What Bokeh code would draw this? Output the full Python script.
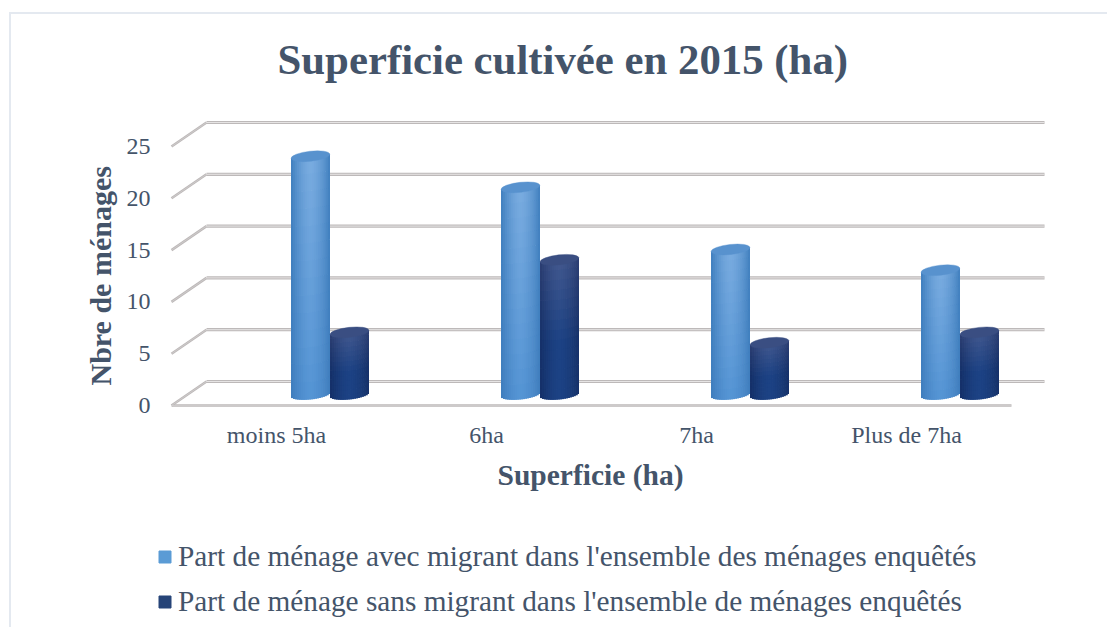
from bokeh.plotting import figure
from bokeh.models import (ColumnDataSource, Range1d, FixedTicker, Legend, LegendItem, Title)
from bokeh.embed import file_html
from bokeh.resources import INLINE
import math

TITLE = "Superficie cultivée en 2015 (ha)"
X_TITLE = "Superficie (ha)"
Y_TITLE = "Nbre de ménages"
categories = ["moins 5ha", "6ha", "7ha", "Plus de 7ha"]
avec_migrant = [23, 20, 14, 12]
sans_migrant = [6, 13, 5, 6]
y_ticks = [0, 5, 10, 15, 20, 25]
series_names = ["Part de ménage avec migrant dans l'ensemble des ménages enquêtés",
                "Part de ménage sans migrant dans l'ensemble de ménages enquêtés"]

INK = "#44546A"
FONT = "Liberation Serif"
PX_PER_CAT = 210.0
PX_PER_UNIT = 10.36
W, H = 1107, 627
FRAME_L, FRAME_R, FRAME_T, FRAME_B = 120, 1060, 115, H   # page pixels
AXIS_X, AXIS_Y = 165, 410
ZERO_X, ZERO_Y = 276, 405
RULE = "#E4E9F0"

def dx(px): return px / PX_PER_CAT
def dy(px): return px / PX_PER_UNIT

p = figure(width=W, height=H, output_backend="svg", toolbar_location=None,
           x_range=Range1d((FRAME_L - ZERO_X) / PX_PER_CAT, (FRAME_R - ZERO_X) / PX_PER_CAT),
           y_range=Range1d((ZERO_Y - FRAME_B) / PX_PER_UNIT, (ZERO_Y - FRAME_T) / PX_PER_UNIT),
           min_border_left=FRAME_L, min_border_right=W - FRAME_R,
           min_border_top=FRAME_T, min_border_bottom=0,
           background_fill_color="white", border_fill_alpha=0, outline_line_color=None,
           styles={"background-image": f"linear-gradient({RULE},{RULE}), linear-gradient({RULE},{RULE})",
                   "background-size": "100% 2px, 2px 100%",
                   "background-position": "9px 12px, 9px 12px",
                   "background-repeat": "no-repeat"})
p.grid.visible = False

p.title.text = TITLE
p.title.text_font = FONT
p.title.text_font_size = "42.8px"
p.title.text_font_style = "bold"
p.title.text_color = INK
p.title.align = "left"
p.title.offset = 157
p.title.standoff = 66

ax = p.yaxis[0]
ax.fixed_location = (AXIS_X - ZERO_X) / PX_PER_CAT
ax.ticker = FixedTicker(ticks=y_ticks)
ax.axis_line_color = None
ax.major_tick_line_color = None
ax.minor_tick_line_color = None
ax.major_label_text_font = FONT
ax.major_label_text_font_size = "24px"
ax.major_label_text_color = INK
ax.major_label_standoff = 9

ax = p.xaxis[0]
ax.fixed_location = (ZERO_Y - AXIS_Y) / PX_PER_UNIT
ax.ticker = FixedTicker(ticks=list(range(len(categories))))
ax.major_label_overrides = {i: c for i, c in enumerate(categories)}
ax.axis_line_color = None
ax.major_tick_line_color = None
ax.minor_tick_line_color = None
ax.major_label_text_font = FONT
ax.major_label_text_font_size = "24px"
ax.major_label_text_color = INK
ax.major_label_standoff = 5
ax.axis_label = X_TITLE
ax.axis_label_text_font = FONT
ax.axis_label_text_font_size = "29.5px"
ax.axis_label_text_font_style = "bold"
ax.axis_label_text_color = INK
ax.axis_label_standoff = 8

p.add_layout(Title(text=Y_TITLE, align="left", offset=FRAME_B - 385, standoff=7, text_font=FONT,
                   text_font_size="30px", text_font_style="bold", text_color=INK), "left")

# 3D chart walls
BACK_X, BACK_Y = 35, 24
x0 = -105 / PX_PER_CAT
x1 = x0 + len(categories)
hx, hy, sx, sy = [], [], [], []
for t in y_ticks:
    hx.append([x0 + dx(BACK_X), x1 + dx(BACK_X - 2)])
    hy.append([t + dy(BACK_Y), t + dy(BACK_Y)])
    sx.append([x0, x0 + dx(BACK_X)])
    sy.append([t, t + dy(BACK_Y)])
sx.append([x0, x1])
sy.append([0, 0])
for col, w in (("#BDB9B9", 3.2), ("#E6E4E4", 1.0)):
    p.multi_line(hx, hy, line_color=col, line_width=w)
    p.multi_line(sx, sy, line_color=col, line_width=w - 0.6)

def mix(a, b, t):
    t = max(0.0, min(1.0, t))
    return tuple(a[i] + (b[i] - a[i]) * t for i in range(3))

def to_hex(c):
    return "#%02x%02x%02x" % tuple(int(round(v)) for v in c)

BAR_W = 39
RY = 5.0
TILT = 0.11
BASE = 11
NX, NY = 20, 14
OVER = 0.7

def cylinder(values, off_px, edge_top, mid_top, edge_bot, mid_bot, cap, knee):
    src = dict(left=[], right=[], top=[], bottom=[], color=[])
    for i, v in enumerate(values):
        cx = i + dx(off_px)
        base = dy(BASE)
        for j in range(NX):
            ua = -1 + 2 * j / NX
            ub = ua + 2 / NX
            u = (ua + ub) / 2
            curve = dy(TILT * u * BAR_W / 2)
            low = base + curve - dy(RY * math.sqrt(max(0, 1 - u * u)))
            high = v + base + curve
            shade = 1 - abs(u) ** 1.6
            for k in range(NY):
                a, b = k / NY, (k + 1) / NY
                t = ((a + b) / 2 - (1 - knee)) / knee
                e = mix(edge_bot, edge_top, t)
                m = mix(mid_bot, mid_top, t)
                col = to_hex(mix(e, m, shade))
                src["left"].append(cx + dx(ua * BAR_W / 2))
                src["right"].append(cx + dx(ub * BAR_W / 2 + (OVER if j < NX - 1 else 0)))
                src["bottom"].append(low + (high - low) * a)
                src["top"].append(low + (high - low) * b + (dy(OVER) if k < NY - 1 else 0))
                src["color"].append(col)
    r = p.quad(left="left", right="right", top="top", bottom="bottom", source=ColumnDataSource(src),
               fill_color="color", line_color=None)
    p.ellipse(x=[i + dx(off_px) for i in range(len(values))],
              y=[v + dy(BASE) for v in values],
              width=BAR_W, height=RY * 2, width_units="screen", height_units="screen",
              angle=math.atan(TILT), fill_color=to_hex(cap), line_color=to_hex(cap), line_width=0.4)
    return r

BLUE = ((63, 127, 190), (122, 172, 224), (62, 124, 188), (84, 148, 212), (88, 146, 206), 1.0)
DARK = ((42, 60, 112), (66, 88, 142), (20, 48, 104), (28, 66, 132), (58, 78, 130), 0.6)
r1 = cylinder(avec_migrant, 34, *BLUE)
r2 = cylinder(sans_migrant, 73, *DARK)

# swatches for the legend
sw1 = p.quad(left=[0], right=[0], top=[0], bottom=[0], fill_color="#5B9BD5", line_color="#5B9BD5")
sw2 = p.quad(left=[0], right=[0], top=[0], bottom=[0], fill_color="#264478", line_color="#264478")

legend = Legend(items=[LegendItem(label=series_names[0], renderers=[sw1]),
                       LegendItem(label=series_names[1], renderers=[sw2])],
                orientation="vertical", location=(157 - FRAME_L, FRAME_B - 618),
                label_text_font=FONT, label_text_font_size="29.3px", label_text_color=INK,
                glyph_width=15, glyph_height=15, label_standoff=6, spacing=12,
                border_line_color=None, background_fill_alpha=0, padding=0, margin=0)
p.add_layout(legend, "center")

open("out.html", "w").write(file_html(p, INLINE))
